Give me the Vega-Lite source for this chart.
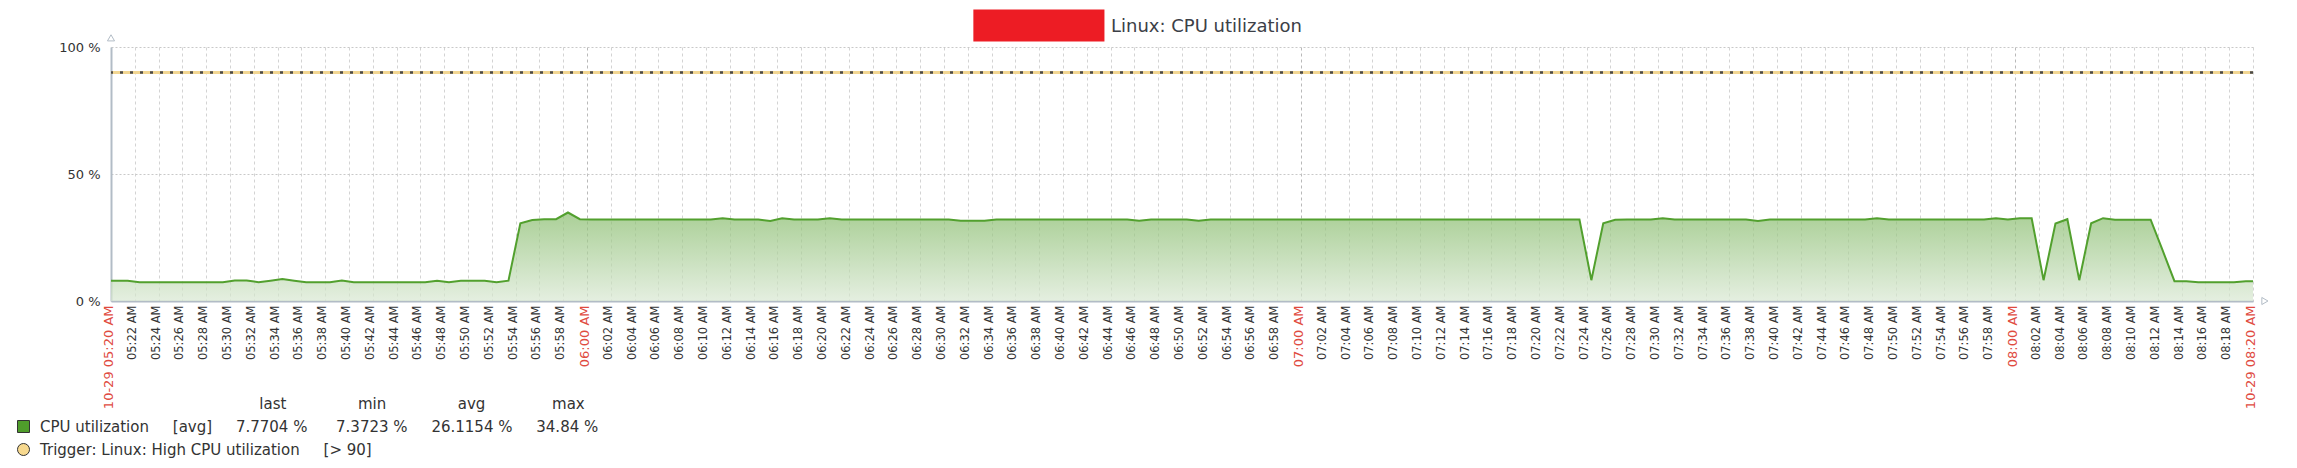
{
  "$schema": "https://vega.github.io/schema/vega-lite/v6.json",
  "width": 2142,
  "height": 254,
  "autosize": {"type": "none"},
  "padding": {"left": 111, "top": 47, "right": 44, "bottom": 167},
  "background": "white",
  "config": {
    "font": "DejaVu Sans",
    "view": {"fill": "#ebebeb", "stroke": null},
    "axis": {"labelOverlap": false}
  },
  "title": {
    "text": "Linux: CPU utilization",
    "anchor": "start",
    "frame": "group",
    "dx": 1000,
    "offset": -41,
    "baseline": "alphabetic",
    "fontSize": 18,
    "fontWeight": "normal",
    "color": "#3c4047",
    "font": "DejaVu Sans"
  },
  "datasets": {
    "cpuseries": [
      {"time": "2023-10-29T05:20:00Z", "cpu": 8.0},
      {"time": "2023-10-29T05:20:24Z", "cpu": 8.0},
      {"time": "2023-10-29T05:21:24Z", "cpu": 8.0},
      {"time": "2023-10-29T05:22:24Z", "cpu": 7.4},
      {"time": "2023-10-29T05:23:24Z", "cpu": 7.4},
      {"time": "2023-10-29T05:24:24Z", "cpu": 7.4},
      {"time": "2023-10-29T05:25:24Z", "cpu": 7.4},
      {"time": "2023-10-29T05:26:24Z", "cpu": 7.4},
      {"time": "2023-10-29T05:27:24Z", "cpu": 7.4},
      {"time": "2023-10-29T05:28:24Z", "cpu": 7.4},
      {"time": "2023-10-29T05:29:24Z", "cpu": 7.4},
      {"time": "2023-10-29T05:30:24Z", "cpu": 8.1},
      {"time": "2023-10-29T05:31:24Z", "cpu": 8.1},
      {"time": "2023-10-29T05:32:24Z", "cpu": 7.4},
      {"time": "2023-10-29T05:33:24Z", "cpu": 8.0},
      {"time": "2023-10-29T05:34:24Z", "cpu": 8.7},
      {"time": "2023-10-29T05:35:24Z", "cpu": 8.0},
      {"time": "2023-10-29T05:36:24Z", "cpu": 7.4},
      {"time": "2023-10-29T05:37:24Z", "cpu": 7.4},
      {"time": "2023-10-29T05:38:24Z", "cpu": 7.4},
      {"time": "2023-10-29T05:39:24Z", "cpu": 8.1},
      {"time": "2023-10-29T05:40:24Z", "cpu": 7.4},
      {"time": "2023-10-29T05:41:24Z", "cpu": 7.4},
      {"time": "2023-10-29T05:42:24Z", "cpu": 7.4},
      {"time": "2023-10-29T05:43:24Z", "cpu": 7.4},
      {"time": "2023-10-29T05:44:24Z", "cpu": 7.4},
      {"time": "2023-10-29T05:45:24Z", "cpu": 7.4},
      {"time": "2023-10-29T05:46:24Z", "cpu": 7.4},
      {"time": "2023-10-29T05:47:24Z", "cpu": 8.0},
      {"time": "2023-10-29T05:48:24Z", "cpu": 7.4},
      {"time": "2023-10-29T05:49:24Z", "cpu": 8.0},
      {"time": "2023-10-29T05:50:24Z", "cpu": 8.0},
      {"time": "2023-10-29T05:51:24Z", "cpu": 8.0},
      {"time": "2023-10-29T05:52:24Z", "cpu": 7.4},
      {"time": "2023-10-29T05:53:24Z", "cpu": 8.0},
      {"time": "2023-10-29T05:54:24Z", "cpu": 30.6},
      {"time": "2023-10-29T05:55:24Z", "cpu": 31.9},
      {"time": "2023-10-29T05:56:24Z", "cpu": 32.2},
      {"time": "2023-10-29T05:57:24Z", "cpu": 32.2},
      {"time": "2023-10-29T05:58:24Z", "cpu": 34.84},
      {"time": "2023-10-29T05:59:24Z", "cpu": 32.2},
      {"time": "2023-10-29T06:00:24Z", "cpu": 32.1},
      {"time": "2023-10-29T06:01:24Z", "cpu": 32.1},
      {"time": "2023-10-29T06:02:24Z", "cpu": 32.1},
      {"time": "2023-10-29T06:03:24Z", "cpu": 32.1},
      {"time": "2023-10-29T06:04:24Z", "cpu": 32.1},
      {"time": "2023-10-29T06:05:24Z", "cpu": 32.1},
      {"time": "2023-10-29T06:06:24Z", "cpu": 32.1},
      {"time": "2023-10-29T06:07:24Z", "cpu": 32.1},
      {"time": "2023-10-29T06:08:24Z", "cpu": 32.1},
      {"time": "2023-10-29T06:09:24Z", "cpu": 32.1},
      {"time": "2023-10-29T06:10:24Z", "cpu": 32.1},
      {"time": "2023-10-29T06:11:24Z", "cpu": 32.6},
      {"time": "2023-10-29T06:12:24Z", "cpu": 32.1},
      {"time": "2023-10-29T06:13:24Z", "cpu": 32.1},
      {"time": "2023-10-29T06:14:24Z", "cpu": 32.1},
      {"time": "2023-10-29T06:15:24Z", "cpu": 31.5},
      {"time": "2023-10-29T06:16:24Z", "cpu": 32.6},
      {"time": "2023-10-29T06:17:24Z", "cpu": 32.1},
      {"time": "2023-10-29T06:18:24Z", "cpu": 32.1},
      {"time": "2023-10-29T06:19:24Z", "cpu": 32.1},
      {"time": "2023-10-29T06:20:24Z", "cpu": 32.6},
      {"time": "2023-10-29T06:21:24Z", "cpu": 32.1},
      {"time": "2023-10-29T06:22:24Z", "cpu": 32.1},
      {"time": "2023-10-29T06:23:24Z", "cpu": 32.1},
      {"time": "2023-10-29T06:24:24Z", "cpu": 32.1},
      {"time": "2023-10-29T06:25:24Z", "cpu": 32.1},
      {"time": "2023-10-29T06:26:24Z", "cpu": 32.1},
      {"time": "2023-10-29T06:27:24Z", "cpu": 32.1},
      {"time": "2023-10-29T06:28:24Z", "cpu": 32.1},
      {"time": "2023-10-29T06:29:24Z", "cpu": 32.1},
      {"time": "2023-10-29T06:30:24Z", "cpu": 32.1},
      {"time": "2023-10-29T06:31:24Z", "cpu": 31.6},
      {"time": "2023-10-29T06:32:24Z", "cpu": 31.6},
      {"time": "2023-10-29T06:33:24Z", "cpu": 31.6},
      {"time": "2023-10-29T06:34:24Z", "cpu": 32.1},
      {"time": "2023-10-29T06:35:24Z", "cpu": 32.1},
      {"time": "2023-10-29T06:36:24Z", "cpu": 32.1},
      {"time": "2023-10-29T06:37:24Z", "cpu": 32.1},
      {"time": "2023-10-29T06:38:24Z", "cpu": 32.1},
      {"time": "2023-10-29T06:39:24Z", "cpu": 32.1},
      {"time": "2023-10-29T06:40:24Z", "cpu": 32.1},
      {"time": "2023-10-29T06:41:24Z", "cpu": 32.1},
      {"time": "2023-10-29T06:42:24Z", "cpu": 32.1},
      {"time": "2023-10-29T06:43:24Z", "cpu": 32.1},
      {"time": "2023-10-29T06:44:24Z", "cpu": 32.1},
      {"time": "2023-10-29T06:45:24Z", "cpu": 32.1},
      {"time": "2023-10-29T06:46:24Z", "cpu": 31.6},
      {"time": "2023-10-29T06:47:24Z", "cpu": 32.1},
      {"time": "2023-10-29T06:48:24Z", "cpu": 32.1},
      {"time": "2023-10-29T06:49:24Z", "cpu": 32.1},
      {"time": "2023-10-29T06:50:24Z", "cpu": 32.1},
      {"time": "2023-10-29T06:51:24Z", "cpu": 31.6},
      {"time": "2023-10-29T06:52:24Z", "cpu": 32.1},
      {"time": "2023-10-29T06:53:24Z", "cpu": 32.1},
      {"time": "2023-10-29T06:54:24Z", "cpu": 32.1},
      {"time": "2023-10-29T06:55:24Z", "cpu": 32.1},
      {"time": "2023-10-29T06:56:24Z", "cpu": 32.1},
      {"time": "2023-10-29T06:57:24Z", "cpu": 32.1},
      {"time": "2023-10-29T06:58:24Z", "cpu": 32.1},
      {"time": "2023-10-29T06:59:24Z", "cpu": 32.1},
      {"time": "2023-10-29T07:00:24Z", "cpu": 32.1},
      {"time": "2023-10-29T07:01:24Z", "cpu": 32.1},
      {"time": "2023-10-29T07:02:24Z", "cpu": 32.1},
      {"time": "2023-10-29T07:03:24Z", "cpu": 32.1},
      {"time": "2023-10-29T07:04:24Z", "cpu": 32.1},
      {"time": "2023-10-29T07:05:24Z", "cpu": 32.1},
      {"time": "2023-10-29T07:06:24Z", "cpu": 32.1},
      {"time": "2023-10-29T07:07:24Z", "cpu": 32.1},
      {"time": "2023-10-29T07:08:24Z", "cpu": 32.1},
      {"time": "2023-10-29T07:09:24Z", "cpu": 32.1},
      {"time": "2023-10-29T07:10:24Z", "cpu": 32.1},
      {"time": "2023-10-29T07:11:24Z", "cpu": 32.1},
      {"time": "2023-10-29T07:12:24Z", "cpu": 32.1},
      {"time": "2023-10-29T07:13:24Z", "cpu": 32.1},
      {"time": "2023-10-29T07:14:24Z", "cpu": 32.1},
      {"time": "2023-10-29T07:15:24Z", "cpu": 32.1},
      {"time": "2023-10-29T07:16:24Z", "cpu": 32.1},
      {"time": "2023-10-29T07:17:24Z", "cpu": 32.1},
      {"time": "2023-10-29T07:18:24Z", "cpu": 32.1},
      {"time": "2023-10-29T07:19:24Z", "cpu": 32.1},
      {"time": "2023-10-29T07:20:24Z", "cpu": 32.1},
      {"time": "2023-10-29T07:21:24Z", "cpu": 32.1},
      {"time": "2023-10-29T07:22:24Z", "cpu": 32.1},
      {"time": "2023-10-29T07:23:24Z", "cpu": 32.1},
      {"time": "2023-10-29T07:24:24Z", "cpu": 8.2},
      {"time": "2023-10-29T07:25:24Z", "cpu": 30.6},
      {"time": "2023-10-29T07:26:24Z", "cpu": 32.0},
      {"time": "2023-10-29T07:27:24Z", "cpu": 32.1},
      {"time": "2023-10-29T07:28:24Z", "cpu": 32.1},
      {"time": "2023-10-29T07:29:24Z", "cpu": 32.1},
      {"time": "2023-10-29T07:30:24Z", "cpu": 32.6},
      {"time": "2023-10-29T07:31:24Z", "cpu": 32.1},
      {"time": "2023-10-29T07:32:24Z", "cpu": 32.1},
      {"time": "2023-10-29T07:33:24Z", "cpu": 32.1},
      {"time": "2023-10-29T07:34:24Z", "cpu": 32.1},
      {"time": "2023-10-29T07:35:24Z", "cpu": 32.1},
      {"time": "2023-10-29T07:36:24Z", "cpu": 32.1},
      {"time": "2023-10-29T07:37:24Z", "cpu": 32.1},
      {"time": "2023-10-29T07:38:24Z", "cpu": 31.5},
      {"time": "2023-10-29T07:39:24Z", "cpu": 32.1},
      {"time": "2023-10-29T07:40:24Z", "cpu": 32.1},
      {"time": "2023-10-29T07:41:24Z", "cpu": 32.1},
      {"time": "2023-10-29T07:42:24Z", "cpu": 32.1},
      {"time": "2023-10-29T07:43:24Z", "cpu": 32.1},
      {"time": "2023-10-29T07:44:24Z", "cpu": 32.1},
      {"time": "2023-10-29T07:45:24Z", "cpu": 32.1},
      {"time": "2023-10-29T07:46:24Z", "cpu": 32.1},
      {"time": "2023-10-29T07:47:24Z", "cpu": 32.1},
      {"time": "2023-10-29T07:48:24Z", "cpu": 32.6},
      {"time": "2023-10-29T07:49:24Z", "cpu": 32.1},
      {"time": "2023-10-29T07:50:24Z", "cpu": 32.1},
      {"time": "2023-10-29T07:51:24Z", "cpu": 32.1},
      {"time": "2023-10-29T07:52:24Z", "cpu": 32.1},
      {"time": "2023-10-29T07:53:24Z", "cpu": 32.1},
      {"time": "2023-10-29T07:54:24Z", "cpu": 32.1},
      {"time": "2023-10-29T07:55:24Z", "cpu": 32.1},
      {"time": "2023-10-29T07:56:24Z", "cpu": 32.1},
      {"time": "2023-10-29T07:57:24Z", "cpu": 32.1},
      {"time": "2023-10-29T07:58:24Z", "cpu": 32.6},
      {"time": "2023-10-29T07:59:24Z", "cpu": 32.1},
      {"time": "2023-10-29T08:00:24Z", "cpu": 32.6},
      {"time": "2023-10-29T08:01:24Z", "cpu": 32.6},
      {"time": "2023-10-29T08:02:24Z", "cpu": 8.2},
      {"time": "2023-10-29T08:03:24Z", "cpu": 30.5},
      {"time": "2023-10-29T08:04:24Z", "cpu": 32.2},
      {"time": "2023-10-29T08:05:24Z", "cpu": 8.2},
      {"time": "2023-10-29T08:06:24Z", "cpu": 30.6},
      {"time": "2023-10-29T08:07:24Z", "cpu": 32.6},
      {"time": "2023-10-29T08:08:24Z", "cpu": 32.0},
      {"time": "2023-10-29T08:09:24Z", "cpu": 32.0},
      {"time": "2023-10-29T08:10:24Z", "cpu": 32.0},
      {"time": "2023-10-29T08:11:24Z", "cpu": 32.0},
      {"time": "2023-10-29T08:12:24Z", "cpu": 20.0},
      {"time": "2023-10-29T08:13:24Z", "cpu": 7.8},
      {"time": "2023-10-29T08:14:24Z", "cpu": 7.8},
      {"time": "2023-10-29T08:15:24Z", "cpu": 7.4},
      {"time": "2023-10-29T08:16:24Z", "cpu": 7.4},
      {"time": "2023-10-29T08:17:24Z", "cpu": 7.4},
      {"time": "2023-10-29T08:18:24Z", "cpu": 7.4},
      {"time": "2023-10-29T08:19:24Z", "cpu": 7.77},
      {"time": "2023-10-29T08:20:00Z", "cpu": 7.77}
    ],
    "threshold": [{"cpu": 90}],
    "redaction": [{"t0": "2023-10-29T06:32:28Z", "t1": "2023-10-29T06:43:29Z", "v0": 102.2, "v1": 114.8}],
    "entries": [
      {"series": "\u200b\u00a0\u00a0\u00a0\u00a0\u00a0\u00a0\u00a0\u00a0\u00a0\u00a0\u00a0\u00a0\u00a0\u00a0\u00a0\u00a0\u00a0\u00a0\u00a0\u00a0\u00a0\u00a0\u00a0\u00a0\u00a0\u00a0\u00a0\u00a0\u00a0\u00a0\u00a0\u00a0\u00a0\u00a0\u00a0\u00a0\u00a0\u00a0\u00a0\u00a0\u00a0\u00a0\u00a0\u00a0\u00a0\u00a0last\u00a0\u00a0\u00a0\u00a0\u00a0\u00a0\u00a0\u00a0\u00a0\u00a0\u00a0\u00a0\u00a0\u00a0\u00a0min\u00a0\u00a0\u00a0\u00a0\u00a0\u00a0\u00a0\u00a0\u00a0\u00a0\u00a0\u00a0\u00a0\u00a0\u00a0avg\u00a0\u00a0\u00a0\u00a0\u00a0\u00a0\u00a0\u00a0\u00a0\u00a0\u00a0\u00a0\u00a0\u00a0max"},
      {"series": "CPU\u00a0utilization\u00a0\u00a0\u00a0\u00a0\u00a0[avg]\u00a0\u00a0\u00a0\u00a0\u00a07.7704\u00a0%\u00a0\u00a0\u00a0\u00a0\u00a0\u00a07.3723\u00a0%\u00a0\u00a0\u00a0\u00a0\u00a026.1154\u00a0%\u00a0\u00a0\u00a0\u00a0\u00a034.84\u00a0%"},
      {"series": "Trigger:\u00a0Linux:\u00a0High\u00a0CPU\u00a0utilization\u00a0\u00a0\u00a0\u00a0\u00a0[>\u00a090]"}
    ]
  },
  "layer": [
    {
      "data": {"name": "cpuseries"},
      "mark": {
        "type": "area",
        "interpolate": "linear",
        "color": {
          "gradient": "linear",
          "x1": 0, "y1": 1, "x2": 0, "y2": 0,
          "stops": [
            {"offset": 0, "color": "#d9e8d3"},
            {"offset": 1, "color": "#86bb6a"}
          ]
        },
        "line": {"color": "#52a02e", "strokeWidth": 2}
      },
      "encoding": {
        "x": {
          "field": "time",
          "type": "temporal",
          "scale": {"type": "utc", "domain": [1698556800000, 1698567600000], "nice": false},
          "axis": {
            "title": null,
            "tickCount": 400,
            "values": [1698556800000, 1698556920000, 1698557040000, 1698557160000, 1698557280000, 1698557400000, 1698557520000, 1698557640000, 1698557760000, 1698557880000,
                       1698558000000, 1698558120000, 1698558240000, 1698558360000, 1698558480000, 1698558600000, 1698558720000, 1698558840000, 1698558960000, 1698559080000,
                       1698559200000, 1698559320000, 1698559440000, 1698559560000, 1698559680000, 1698559800000, 1698559920000, 1698560040000, 1698560160000, 1698560280000,
                       1698560400000, 1698560520000, 1698560640000, 1698560760000, 1698560880000, 1698561000000, 1698561120000, 1698561240000, 1698561360000, 1698561480000,
                       1698561600000, 1698561720000, 1698561840000, 1698561960000, 1698562080000, 1698562200000, 1698562320000, 1698562440000, 1698562560000, 1698562680000,
                       1698562800000, 1698562920000, 1698563040000, 1698563160000, 1698563280000, 1698563400000, 1698563520000, 1698563640000, 1698563760000, 1698563880000,
                       1698564000000, 1698564120000, 1698564240000, 1698564360000, 1698564480000, 1698564600000, 1698564720000, 1698564840000, 1698564960000, 1698565080000,
                       1698565200000, 1698565320000, 1698565440000, 1698565560000, 1698565680000, 1698565800000, 1698565920000, 1698566040000, 1698566160000, 1698566280000,
                       1698566400000, 1698566520000, 1698566640000, 1698566760000, 1698566880000, 1698567000000, 1698567120000, 1698567240000, 1698567360000, 1698567480000,
                       1698567600000],
            "labelAngle": 270,
            "labelAlign": "right",
            "labelBaseline": "middle",
            "labelPadding": 4,
            "labelOffset": -2.5,
            "ticks": false,
            "labelOverlap": false,
            "labelBound": false,
            "labelFlush": false,
            "labelExpr": "(utcminutes(datum.value) == 20 && (utchours(datum.value) == 5 || utchours(datum.value) == 8)) ? utcFormat(datum.value, '%m-%d %I:%M %p') : utcFormat(datum.value, '%I:%M %p')",
            "labelColor": {
              "condition": {"test": "utcminutes(datum.value) == 0 || (utcminutes(datum.value) == 20 && (utchours(datum.value) == 5 || utchours(datum.value) == 8))", "value": "#e04b3f"},
              "value": "#333333"
            },
            "labelFontSize": {
              "condition": {"test": "utcminutes(datum.value) == 0 || (utcminutes(datum.value) == 20 && (utchours(datum.value) == 5 || utchours(datum.value) == 8))", "value": 13},
              "value": 11.5
            },
            "grid": true,
            "gridDash": [3, 3],
            "gridColor": {
              "condition": {"test": "utcminutes(datum.value) == 0", "value": "#b9b9b9"},
              "value": "#d3d3d3"
            },
            "domainColor": "#b2bcc6",
            "domainWidth": 2
          }
        },
        "y": {
          "field": "cpu",
          "type": "quantitative",
          "scale": {"domain": [0, 100], "nice": false},
          "axis": {
            "title": null,
            "values": [0, 50, 100],
            "labelExpr": "datum.value + ' %'",
            "ticks": false,
            "labelPadding": 11,
            "labelFontSize": 13,
            "labelColor": "#333333",
            "grid": true,
            "gridDash": [2, 2],
            "gridColor": "#c9c9c9",
            "domainColor": "#b2bcc6",
            "domainWidth": 2
          }
        }
      }
    },
    {
      "data": {"name": "threshold"},
      "mark": {"type": "rule", "color": "#f2d692", "strokeWidth": 3},
      "encoding": {"y": {"field": "cpu", "type": "quantitative", "title": null}}
    },
    {
      "data": {"name": "threshold"},
      "mark": {"type": "rule", "color": "#4a4a4a", "strokeWidth": 2.5, "strokeDash": [3, 7]},
      "encoding": {"y": {"field": "cpu", "type": "quantitative", "title": null}}
    },
    {
      "data": {"name": "redaction"},
      "mark": {"type": "rect", "color": "#ed1c24"},
      "encoding": {
        "x": {"field": "t0", "type": "temporal", "title": null},
        "x2": {"field": "t1"},
        "y": {"field": "v0", "type": "quantitative", "title": null},
        "y2": {"field": "v1"}
      }
    },
    {
      "data": {"values": [{}]},
      "mark": {"type": "point", "shape": "triangle-up", "filled": true, "fill": "white", "stroke": "#b2bcc6", "strokeWidth": 1, "size": 50, "opacity": 1},
      "encoding": {
        "x": {"datum": 1698556800000, "type": "temporal"},
        "y": {"datum": 103.6, "type": "quantitative"}
      }
    },
    {
      "data": {"values": [{}]},
      "mark": {"type": "point", "shape": "triangle-right", "filled": true, "fill": "white", "stroke": "#b2bcc6", "strokeWidth": 1, "size": 50, "opacity": 1},
      "encoding": {
        "x": {"datum": 1698567660000, "type": "temporal"},
        "y": {"datum": 0, "type": "quantitative"}
      }
    },
    {
      "data": {"name": "entries"},
      "mark": {"type": "point", "filled": true, "opacity": 0},
      "encoding": {
        "color": {
          "field": "series",
          "type": "nominal",
          "sort": null,
          "scale": {"range": ["transparent", "#4f9d2b", "#f7d98f"]},
          "legend": {
            "orient": "none",
            "legendX": -95,
            "legendY": 349,
            "direction": "vertical",
            "title": null,
            "labelFont": "DejaVu Sans",
            "labelFontSize": 15,
            "labelColor": "#333333",
            "labelLimit": 0,
            "labelOffset": 9,
            "symbolSize": 144,
            "symbolOpacity": 1,
            "rowPadding": 6,
            "padding": 0,
            "encode": {"symbols": {"update": {"stroke": {"value": "#333333"}, "strokeWidth": {"value": 1}}}}
          }
        },
        "shape": {
          "field": "series",
          "type": "nominal",
          "sort": null,
          "scale": {"range": ["M0,0", "square", "circle"]},
          "legend": {
            "orient": "none",
            "legendX": -95,
            "legendY": 349,
            "direction": "vertical",
            "title": null,
            "labelFont": "DejaVu Sans",
            "labelFontSize": 15,
            "labelColor": "#333333",
            "labelLimit": 0,
            "labelOffset": 9,
            "symbolSize": 144,
            "symbolOpacity": 1,
            "rowPadding": 6,
            "padding": 0,
            "encode": {"symbols": {"update": {"stroke": {"value": "#333333"}, "strokeWidth": {"value": 1}}}}
          }
        }
      }
    }
  ]
}
